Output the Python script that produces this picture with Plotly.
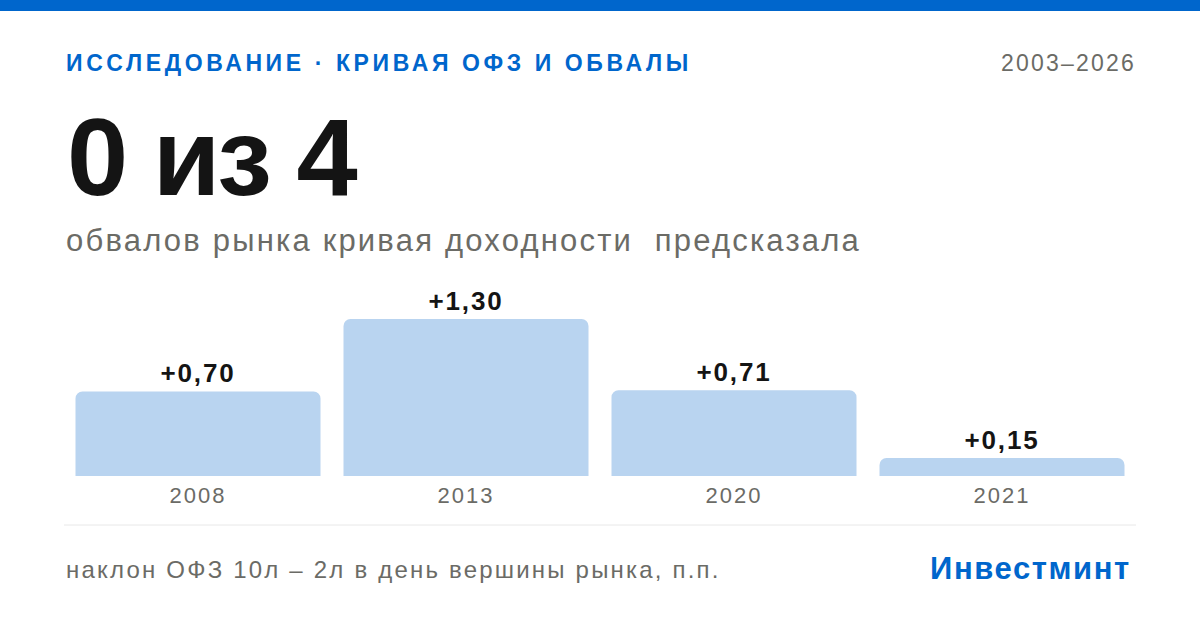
import plotly.graph_objects as go

# ---- data ----
years = ["2008", "2013", "2020", "2021"]
slope_values = [0.70, 1.30, 0.71, 0.15]
value_labels = ["+0,70", "+1,30", "+0,71", "+0,15"]

header_text = "ИССЛЕДОВАНИЕ · КРИВАЯ ОФЗ И ОБВАЛЫ"
period_text = "2003–2026"
headline_text = "0 из 4"
subtitle_text = "обвалов рынка кривая доходности  предсказала"
footnote_text = "наклон ОФЗ 10л – 2л в день вершины рынка, п.п."
brand_text = "Инвестминт"

# ---- style ----
W, H = 1200, 630
BLUE = "#0066cc"
BAR = "#b9d4f0"
DARK = "#141414"
GRAY = "#6b6b66"
FONT = "Liberation Sans, Arial, sans-serif"

plot_left, plot_right = 64, 1136
plot_top, plot_bottom = 280, 476


def px_x(px):
    return px / W


def px_y(py):
    return 1 - py / H


def spaced(txt, ls):
    return f'<span style="letter-spacing:{ls}px">{txt}</span>'


fig = go.Figure()
fig.add_trace(go.Bar(
    x=years,
    y=slope_values,
    marker=dict(color=BAR, cornerradius=7, line=dict(width=0)),
    text=[spaced(v, 1.8) for v in value_labels],
    textposition="outside",
    textfont=dict(family=FONT, size=26, color=DARK, weight="bold"),
    cliponaxis=False,
    hoverinfo="skip",
))

fig.update_layout(
    width=W, height=H,
    margin=dict(l=0, r=0, t=0, b=0),
    paper_bgcolor="white",
    plot_bgcolor="white",
    showlegend=False,
    bargap=23 / 268,
    xaxis=dict(
        domain=[px_x(plot_left), px_x(plot_right)],
        showgrid=False, zeroline=False, showline=False,
        tickmode="array", tickvals=years,
        ticktext=[spaced(y, 2.0) for y in years],
        ticks="", ticklabelstandoff=4,
        tickfont=dict(family=FONT, size=22, color=GRAY),
        automargin=False, fixedrange=True,
    ),
    yaxis=dict(
        domain=[px_y(plot_bottom), px_y(plot_top)],
        range=[0, (plot_bottom - plot_top) / 120.8],
        visible=False, automargin=False, fixedrange=True,
    ),
)

shapes = [
    dict(type="rect", xref="paper", yref="paper",
         x0=0, x1=1, y0=px_y(11), y1=1,
         fillcolor=BLUE, line=dict(width=0), layer="above"),
    dict(type="line", xref="paper", yref="paper",
         x0=px_x(64), x1=px_x(1136), y0=px_y(525), y1=px_y(525),
         line=dict(color="#e8e8e8", width=1)),
]
fig.update_layout(shapes=shapes)

ann = [
    dict(text=spaced(header_text, 3.6),
         x=px_x(64), y=px_y(63), xanchor="left", yanchor="middle",
         font=dict(family=FONT, size=23, color=BLUE, weight="bold")),
    dict(text=spaced(period_text, 2.2), x=px_x(1138), y=px_y(63), xanchor="right", yanchor="middle",
         font=dict(family=FONT, size=23, color=GRAY)),
    dict(text=spaced(headline_text, -3), x=px_x(65), y=px_y(156), xanchor="left", yanchor="middle",
         font=dict(family=FONT, size=110, color=DARK, weight="bold")),
    dict(text=spaced(subtitle_text, 2.2), x=px_x(64), y=px_y(241), xanchor="left", yanchor="middle",
         font=dict(family=FONT, size=31, color=GRAY)),
    dict(text=spaced(footnote_text, 2.2), x=px_x(64), y=px_y(569), xanchor="left", yanchor="middle",
         font=dict(family=FONT, size=24, color=GRAY)),
    dict(text=spaced(brand_text, 1.6), x=px_x(1133), y=px_y(568), xanchor="right", yanchor="middle",
         font=dict(family=FONT, size=31, color=BLUE, weight="bold")),
]
for a in ann:
    a.update(xref="paper", yref="paper", showarrow=False)
fig.update_layout(annotations=ann)

fig.write_html(
    "out.html",
    config={"displayModeBar": False, "staticPlot": True},
    post_script="document.body.style.margin='0';document.body.style.overflow='hidden';",
)
